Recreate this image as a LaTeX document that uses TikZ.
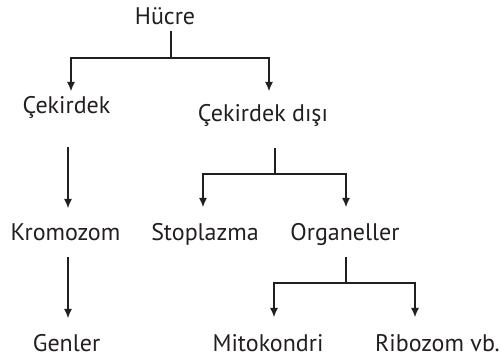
\documentclass[tikz,border=0pt]{standalone}
\usepackage{fontspec}
\setmainfont{PT Sans}
\usepackage{tikz}
\usetikzlibrary{arrows.meta}
\tikzset{>={Latex[length=9pt,width=8pt]}}
\definecolor{inkdark}{HTML}{231F20}
\tikzset{
    term/.style = {anchor=base, inner sep=0pt, text=inkdark, font=\fontsize{24}{28}\selectfont},
    branch/.style = {inkdark, line width=1.1pt},
}

\begin{document}
\begin{tikzpicture}[x=1pt, y=-1pt]
    \useasboundingbox (0, 0) rectangle (501, 358);
    % terms
    \node[term] (hucre) at (165, 25) {Hücre};
    \node[term] (cekirdek) at (66.5, 114) {Çekirdek};
    \node[term] (disi) at (263, 122) {Çekirdek dışı};
    \node[term] (kromozom) at (65.5, 241) {Kromozom};
    \node[term] (stoplazma) at (205, 241) {Stoplazma};
    \node[term] (organel) at (345, 241) {Organeller};
    \node[term] (genler) at (66.5, 352) {Genler};
    \node[term] (mito) at (268, 352) {Mitokondri};
    \node[term] (ribozom) at (437.5, 352) {Ribozom vb.};
    % forks
    \coordinate (hucreout) at (171, 31);
    \coordinate (hucrefork) at (171, 58);
    \coordinate (cekirdekin) at (71, 91);
    \coordinate (disiin) at (269, 91);
    \coordinate (disiout) at (275, 148);
    \coordinate (disifork) at (275, 174);
    \coordinate (stoplazmain) at (203, 207);
    \coordinate (organelin) at (346, 207);
    \coordinate (cekirdekout) at (68, 147);
    \coordinate (kromozomin) at (68, 208);
    \coordinate (kromozomout) at (68, 257);
    \coordinate (genlerin) at (68, 318);
    \coordinate (organelout) at (346, 257);
    \coordinate (organelfork) at (346, 283);
    \coordinate (mitoin) at (274, 317);
    \coordinate (ribozomin) at (415, 317);
    % connectors
    \draw[branch] (hucreout) -- (hucrefork);
    \draw[branch, ->] (hucrefork) -| (cekirdekin);
    \draw[branch, ->] (hucrefork) -| (disiin);
    \draw[branch] (disiout) -- (disifork);
    \draw[branch, ->] (disifork) -| (stoplazmain);
    \draw[branch, ->] (disifork) -| (organelin);
    \draw[branch, ->] (cekirdekout) -- (kromozomin);
    \draw[branch, ->] (kromozomout) -- (genlerin);
    \draw[branch] (organelout) -- (organelfork);
    \draw[branch, ->] (organelfork) -| (mitoin);
    \draw[branch, ->] (organelfork) -| (ribozomin);
\end{tikzpicture}
\end{document}
